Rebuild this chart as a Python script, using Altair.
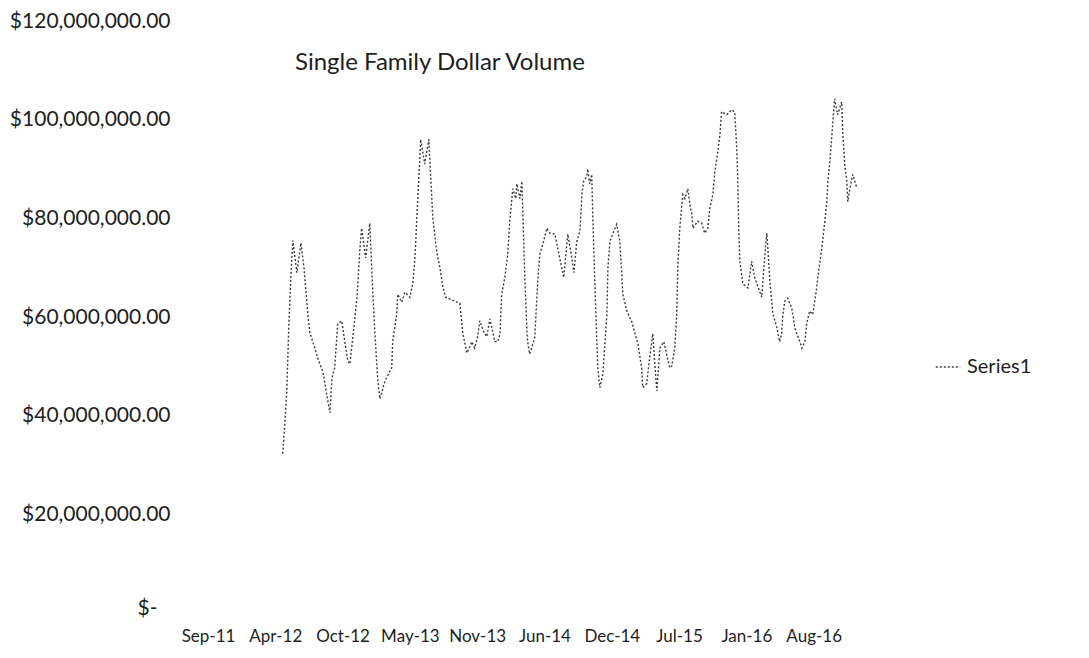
import altair as alt
import pandas as pd

# ---- data ----
dates = [
    "2012-04-24", "2012-04-30", "2012-05-06", "2012-05-12", "2012-05-18", "2012-05-24",
    "2012-06-05", "2012-06-17", "2012-06-26", "2012-07-07", "2012-07-13", "2012-07-28",
    "2012-08-09", "2012-08-21", "2012-09-02", "2012-09-11", "2012-09-17", "2012-09-25",
    "2012-10-04", "2012-10-16", "2012-10-25", "2012-11-03", "2012-11-09", "2012-11-18",
    "2012-11-30", "2012-12-09", "2012-12-14", "2012-12-26", "2013-01-07", "2013-01-16",
    "2013-01-22", "2013-01-31", "2013-02-06", "2013-02-21", "2013-03-13", "2013-03-16",
    "2013-03-28", "2013-03-31", "2013-04-12", "2013-04-21", "2013-05-06", "2013-05-15",
    "2013-05-21", "2013-05-26", "2013-06-01", "2013-06-07", "2013-06-19", "2013-07-01",
    "2013-07-07", "2013-07-13", "2013-07-25", "2013-08-03", "2013-08-12", "2013-08-20",
    "2013-10-01", "2013-10-10", "2013-10-22", "2013-10-31", "2013-11-06", "2013-11-14",
    "2013-11-23", "2013-11-29", "2013-12-11", "2013-12-20", "2013-12-29", "2014-01-13",
    "2014-01-22", "2014-01-28", "2014-02-02", "2014-02-11", "2014-02-20", "2014-02-26",
    "2014-03-07", "2014-03-16", "2014-03-19", "2014-03-28", "2014-04-03", "2014-04-06",
    "2014-04-12", "2014-04-18", "2014-04-20", "2014-04-26", "2014-05-11", "2014-05-20",
    "2014-05-26", "2014-06-04", "2014-06-16", "2014-06-25", "2014-07-10", "2014-07-18",
    "2014-07-30", "2014-08-05", "2014-08-17", "2014-08-29", "2014-09-04", "2014-09-13",
    "2014-09-22", "2014-09-28", "2014-10-03", "2014-10-12", "2014-10-15", "2014-10-21",
    "2014-10-27", "2014-10-30", "2014-11-05", "2014-11-11", "2014-11-14", "2014-11-20",
    "2014-11-29", "2014-12-11", "2014-12-14", "2014-12-20", "2014-12-28", "2015-01-09",
    "2015-01-18", "2015-01-24", "2015-01-27", "2015-02-08", "2015-02-23", "2015-03-13",
    "2015-03-24", "2015-03-27", "2015-04-08", "2015-04-17", "2015-04-26", "2015-05-02",
    "2015-05-08", "2015-05-17", "2015-05-29", "2015-06-06", "2015-06-15", "2015-06-21",
    "2015-06-30", "2015-07-06", "2015-07-09", "2015-07-15", "2015-07-24", "2015-07-30",
    "2015-08-08", "2015-08-14", "2015-08-20", "2015-08-23", "2015-09-06", "2015-09-18",
    "2015-09-27", "2015-10-06", "2015-10-12", "2015-10-21", "2015-10-27", "2015-11-05",
    "2015-11-11", "2015-11-16", "2015-12-01", "2015-12-16", "2015-12-25", "2015-12-31",
    "2016-01-03", "2016-01-06", "2016-01-09", "2016-01-18", "2016-02-02", "2016-02-13",
    "2016-02-22", "2016-03-14", "2016-03-26", "2016-03-29", "2016-04-01", "2016-04-07",
    "2016-04-16", "2016-04-28", "2016-05-06", "2016-05-12", "2016-05-15", "2016-05-21",
    "2016-05-30", "2016-06-11", "2016-06-20", "2016-06-26", "2016-07-05", "2016-07-11",
    "2016-07-20", "2016-07-25", "2016-08-03", "2016-08-12", "2016-08-24", "2016-08-27",
    "2016-09-08", "2016-09-17", "2016-09-23", "2016-09-26", "2016-10-02", "2016-10-08",
    "2016-10-16", "2016-10-25", "2016-11-06", "2016-11-09", "2016-11-15", "2016-11-21",
    "2016-11-24", "2016-11-30", "2016-12-09", "2016-12-21",
]

volume_millions = [
    32.3, 38.0, 45.0, 58.0, 68.0, 75.5,
    69.0, 75.0, 70.0, 61.0, 57.0, 53.7,
    51.0, 49.0, 44.0, 40.6, 47.7, 49.7,
    58.6, 59.2, 55.0, 51.0, 50.5, 56.0,
    63.8, 74.0, 78.0, 72.0, 79.0, 65.0,
    57.0, 47.0, 43.4, 47.0, 49.7, 55.0,
    60.6, 64.6, 63.0, 65.0, 64.0, 67.0,
    72.0, 79.4, 87.5, 96.0, 91.0, 96.0,
    88.0, 80.0, 73.0, 70.0, 66.0, 64.0,
    62.8, 56.6, 52.7, 54.0, 55.0, 53.7,
    56.0, 59.2, 57.0, 56.0, 59.6, 55.0,
    55.0, 56.6, 64.6, 67.9, 72.7, 79.4,
    86.0, 84.0, 87.0, 84.0, 87.5, 80.8,
    67.3, 57.0, 55.0, 52.5, 55.8, 67.3,
    72.7, 74.7, 78.0, 77.0, 76.8, 74.0,
    70.0, 68.0, 76.8, 72.0, 69.0, 75.4,
    77.4, 85.0, 87.5, 88.5, 90.0, 87.0,
    88.9, 80.8, 67.3, 55.2, 49.7, 45.7,
    48.5, 60.6, 70.0, 75.4, 76.8, 78.8,
    75.4, 69.0, 64.6, 61.2, 59.0, 54.5,
    49.7, 45.7, 46.5, 52.0, 56.6, 50.5,
    45.0, 53.7, 55.0, 52.5, 49.7, 50.0,
    53.7, 60.6, 70.0, 78.0, 84.8, 84.0,
    86.0, 82.8, 80.8, 78.0, 79.4, 79.0,
    77.0, 78.0, 82.0, 84.8, 89.5, 93.5,
    97.0, 101.6, 101.0, 102.0, 101.5, 94.0,
    87.5, 77.4, 71.3, 66.7, 65.9, 71.3,
    68.0, 64.0, 75.0, 77.0, 74.0, 67.3,
    60.6, 57.8, 55.0, 56.6, 60.0, 63.2,
    63.8, 61.8, 57.8, 56.6, 55.0, 53.7,
    55.0, 58.6, 61.2, 60.5, 65.9, 67.9,
    74.0, 79.4, 83.4, 87.5, 91.5, 97.0,
    104.2, 101.0, 103.6, 97.6, 90.9, 87.5,
    83.4, 86.0, 88.9, 86.1,
]

series_name = "Series1"
chart_title = "Single Family Dollar Volume"
y_tick_values = [0, 20e6, 40e6, 60e6, 80e6, 100e6, 120e6]

df = pd.DataFrame({
    "date": pd.to_datetime(dates),
    "value": [v * 1e6 for v in volume_millions],
    "series": series_name,
})

# axis layout: Excel date axis with a major unit of ~199.5 days
axis_start = pd.Timestamp("2011-09-15 12:00")
step = pd.Timedelta(hours=199.5 * 24)
tick_ts = [axis_start + k * step for k in range(10)]
axis_end = axis_start + 10 * step


def dt(ts):
    return alt.DateTime(year=ts.year, month=ts.month, date=ts.day, hours=ts.hour)


FONT = "Lato"
INK = "#1e1e1e"
LINE = "#3a3a3a"

chart = (
    alt.Chart(df)
    .mark_line(strokeWidth=1.4, strokeDash=[2, 2])
    .encode(
        x=alt.X(
            "date:T",
            scale=alt.Scale(domain=[dt(axis_start), dt(axis_end)]),
            axis=alt.Axis(
                title=None,
                values=[dt(t) for t in tick_ts],
                format="%b-%y",
                labelFont=FONT,
                labelFontSize=17,
                labelColor=INK,
                labelPadding=15,
                domain=False,
                ticks=False,
                grid=False,
                labelFlush=False,
                labelOverlap=False,
            ),
        ),
        y=alt.Y(
            "value:Q",
            scale=alt.Scale(domain=[0, 120e6], nice=False),
            axis=alt.Axis(
                title=None,
                values=y_tick_values,
                labelExpr="datum.value == 0 ? '$-' : '$' + format(datum.value, ',.2f')",
                labelFont=FONT,
                labelFontSize=21,
                labelColor=INK,
                labelPadding={"condition": {"test": "datum.value == 0", "value": 51}, "value": 38},
                labelOffset={"condition": {"test": "datum.value == 0", "value": -5}, "value": 0},
                labelFlush=False,
                domain=False,
                ticks=False,
                grid=False,
            ),
        ),
        color=alt.Color(
            "series:N",
            scale=alt.Scale(range=[LINE]),
            legend=alt.Legend(
                title=None,
                orient="none",
                legendX=727,
                legendY=333,
                symbolType="stroke",
                symbolSize=600,
                symbolStrokeWidth=1.4,
                symbolDash=[2, 2],
                labelFont=FONT,
                labelFontSize=20,
                labelColor=INK,
                labelOffset=6,
            ),
        ),
    )
    .properties(
        width=673,
        height=592,
        background="white",
        padding={"left": 200, "top": 13, "right": 200, "bottom": 45},
        autosize=alt.AutoSizeParams(type="none"),
        title=alt.TitleParams(
            chart_title,
            anchor="start",
            frame="group",
            dx=87,
            dy=69,
            font=FONT,
            fontSize=24,
            fontWeight="normal",
            color=INK,
        ),
    )
    .configure_view(strokeWidth=0, stroke="transparent")
)

chart.save("out.html", embed_options={"renderer": "svg", "actions": False})
